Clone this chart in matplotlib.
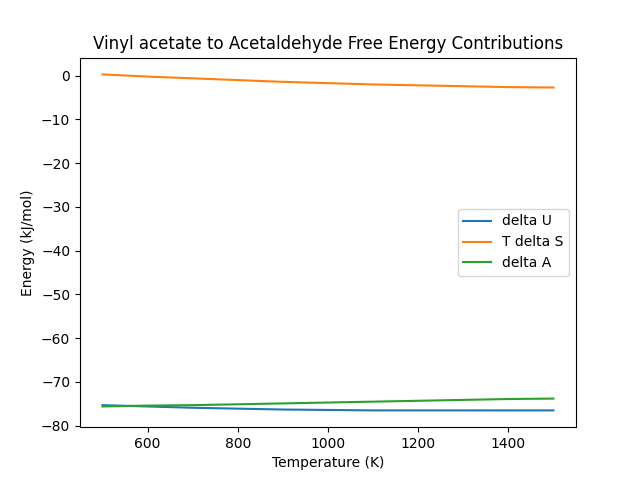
import matplotlib
matplotlib.use("Agg")
import matplotlib.pyplot as plt

temps = [500, 600, 700, 800, 900, 1000, 1100, 1200, 1300, 1400, 1500]
delta_u = [-75.3, -75.6, -75.9, -76.1, -76.3, -76.4, -76.5, -76.5, -76.5, -76.5, -76.5]
t_delta_s = [0.3, -0.2, -0.6, -1.0, -1.4, -1.7, -2.0, -2.2, -2.4, -2.6, -2.7]
delta_a = [u - s for u, s in zip(delta_u, t_delta_s)]

fig, ax = plt.subplots(figsize=(6.4, 4.8), dpi=100)
ax.plot(temps, delta_u, label="delta U")
ax.plot(temps, t_delta_s, label="T delta S")
ax.plot(temps, delta_a, label="delta A")
ax.set_title("Vinyl acetate to Acetaldehyde Free Energy Contributions")
ax.set_xlabel("Temperature (K)")
ax.set_ylabel("Energy (kJ/mol)")
ax.legend(loc="center right")
fig.savefig("out.png")
